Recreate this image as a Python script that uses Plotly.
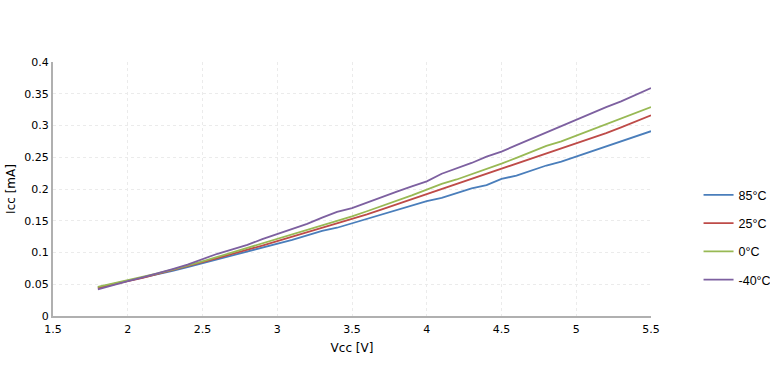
import plotly.graph_objects as go

vcc = [1.8, 1.9, 2.0, 2.1, 2.2, 2.3, 2.4, 2.5, 2.6, 2.7, 2.8, 2.9, 3.0, 3.1, 3.2, 3.3, 3.4, 3.5, 3.6,
       3.7, 3.8, 3.9, 4.0, 4.1, 4.2, 4.3, 4.4, 4.5, 4.6, 4.7, 4.8, 4.9, 5.0, 5.1, 5.2, 5.3, 5.4, 5.5]

icc_85 = [0.045, 0.050, 0.055, 0.060, 0.065, 0.071, 0.077, 0.083, 0.089, 0.096, 0.101, 0.108, 0.114,
          0.120, 0.127, 0.134, 0.139, 0.146, 0.153, 0.160, 0.166, 0.173, 0.181, 0.186, 0.193, 0.201,
          0.206, 0.216, 0.221, 0.229, 0.237, 0.243, 0.251, 0.259, 0.266, 0.274, 0.283, 0.291]
icc_25 = [0.044, 0.050, 0.055, 0.060, 0.066, 0.072, 0.078, 0.085, 0.091, 0.098, 0.104, 0.111, 0.118,
          0.125, 0.131, 0.139, 0.146, 0.152, 0.160, 0.168, 0.176, 0.184, 0.192, 0.200, 0.208, 0.215,
          0.223, 0.231, 0.239, 0.247, 0.256, 0.263, 0.271, 0.280, 0.288, 0.297, 0.306, 0.316]
icc_0 = [0.046, 0.051, 0.056, 0.061, 0.067, 0.073, 0.079, 0.086, 0.093, 0.100, 0.107, 0.114, 0.121,
         0.128, 0.135, 0.142, 0.150, 0.157, 0.165, 0.173, 0.182, 0.190, 0.199, 0.208, 0.215, 0.223,
         0.232, 0.240, 0.249, 0.258, 0.268, 0.275, 0.284, 0.293, 0.303, 0.311, 0.320, 0.329]
icc_m40 = [0.042, 0.049, 0.055, 0.061, 0.067, 0.074, 0.081, 0.090, 0.098, 0.105, 0.112, 0.121, 0.129,
           0.137, 0.145, 0.155, 0.164, 0.170, 0.179, 0.188, 0.196, 0.204, 0.212, 0.224, 0.232, 0.241,
           0.251, 0.259, 0.269, 0.279, 0.290, 0.299, 0.310, 0.319, 0.329, 0.338, 0.348, 0.359]

series_names = ["85°C", "25°C", "0°C", "-40°C"]
series_values = [icc_85, icc_25, icc_0, icc_m40]
colors = ["#4a7ebb", "#be4b48", "#98b954", "#7d60a0"]

x_ticks = [1.5, 2, 2.5, 3, 3.5, 4, 4.5, 5, 5.5]
y_ticks = [0, 0.05, 0.1, 0.15, 0.2, 0.25, 0.3, 0.35, 0.4]

FONT = "Verdana, DejaVu Sans, sans-serif"
LEG_FONT = "Liberation Sans, Arial, sans-serif"

fig = go.Figure()
for name, vals, col in zip(series_names, series_values, colors):
    fig.add_trace(go.Scatter(x=vcc, y=vals, mode="lines", name=name, legendgroup=name,
                             line=dict(color=col, width=1.8)))

fig.update_layout(
    width=770, height=376,
    margin=dict(l=53, r=119, t=62, b=60, autoexpand=False),
    paper_bgcolor="white", plot_bgcolor="white",
    font=dict(family=FONT, size=11, color="#000000"),
    showlegend=True,
    legend=dict(x=1.0795, xanchor="left", y=0.31, yanchor="middle",
                traceorder="grouped", tracegroupgap=9,
                font=dict(family=LEG_FONT, size=12.5, color="#000000"),
                bgcolor="rgba(0,0,0,0)"),
    xaxis=dict(range=[1.5, 5.5], tickvals=x_ticks, ticktext=[str(v) for v in x_ticks],
               showgrid=True, gridcolor="#ebebeb", griddash="dot", gridwidth=1,
               showline=True, linecolor="#b0b0b0", linewidth=2,
               ticks="", zeroline=False, automargin=False, ticklabelstandoff=2,
               title=dict(text="Vcc [V]", font=dict(family=FONT, size=12), standoff=8)),
    yaxis=dict(range=[0, 0.4], tickvals=y_ticks, ticktext=[f"{v:g}" for v in y_ticks],
               showgrid=True, gridcolor="#ebebeb", griddash="dot", gridwidth=1,
               showline=True, linecolor="#b0b0b0", linewidth=2,
               ticks="", zeroline=False, automargin=False,
               title=dict(text="Icc [mA]", font=dict(family=FONT, size=12), standoff=6)),
)

fig.write_html("out.html", config={"displayModeBar": False},
               post_script="document.body.style.margin='0';document.body.style.padding='0';")
